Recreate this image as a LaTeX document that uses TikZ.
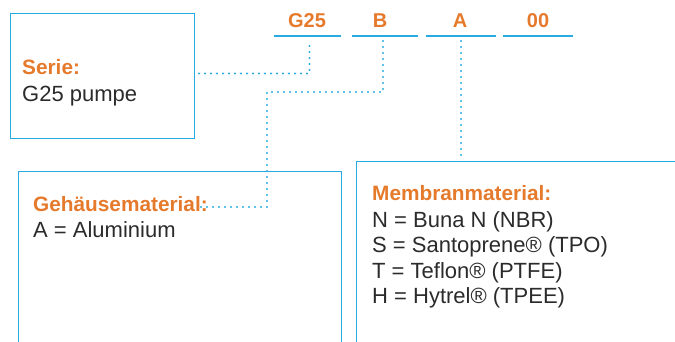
\documentclass[tikz,border=0pt]{standalone}
\usepackage{fontspec}
\setmainfont{Liberation Sans}
\definecolor{lineblue}{HTML}{29ABE2}
\definecolor{codeorange}{HTML}{E57A2C}
\definecolor{bodygray}{HTML}{2B2B2B}
\begin{document}
\begin{tikzpicture}[x=1pt,y=-1pt,
  box/.style={draw=lineblue,line width=1.3pt,inner sep=0,anchor=north west},
  head/.style={anchor=base west,inner sep=0,font=\fontsize{20.8}{24}\bfseries\selectfont,text=codeorange},
  body/.style={anchor=base west,inner sep=0,font=\fontsize{22}{25.5}\selectfont,text=bodygray},
  code/.style={anchor=base,inner sep=0,font=\fontsize{20}{24}\bfseries\selectfont,text=codeorange},
  uline/.style={draw=lineblue,line width=1.3pt},
  dots/.style={draw=lineblue,line width=2.2pt,line cap=round,dash pattern=on 0pt off 6pt}]
\useasboundingbox (0,0) rectangle (675,341);
\clip (0,0) rectangle (675,341);
% boxes
\node[box,minimum width=184pt,minimum height=125pt] (seriebox) at (10,13) {};
\node[box,minimum width=323.5pt,minimum height=180pt] (gehbox) at (17.5,171) {};
\node[box,minimum width=325pt,minimum height=190pt] (membox) at (356,160.5) {};
% box texts
\node[head] (seriehead) at (22,74) {Serie:};
\node[body] (seriebody) at (22,101) {G25 pumpe};
\node[head] (gehhead) at (33,211) {Gehäusematerial:};
\node[body] (gehbody) at (33,237) {A = Aluminium};
\node[head] (memhead) at (372,200) {Membranmaterial:};
\node[body] (mem1) at (372,227) {N = Buna N (NBR)};
\node[body] (mem2) at (372,252.5) {S = Santoprene® (TPO)};
\node[body] (mem3) at (372,278) {T = Teflon® (PTFE)};
\node[body] (mem4) at (372,303.5) {H = Hytrel® (TPEE)};
% code letters
\node[code] (cg) at (307,27) {G25};
\node[code] (cb) at (380,27) {B};
\node[code] (ca) at (460,27) {A};
\node[code] (c0) at (538,27) {00};
% underlines
\coordinate (ug1) at (274,36); \coordinate (ug2) at (341,36);
\coordinate (ub1) at (352,36); \coordinate (ub2) at (418,36);
\coordinate (ua1) at (426,36); \coordinate (ua2) at (496,36);
\coordinate (u01) at (503,36); \coordinate (u02) at (573,36);
\draw[uline] (ug1) -- (ug2);
\draw[uline] (ub1) -- (ub2);
\draw[uline] (ua1) -- (ua2);
\draw[uline] (u01) -- (u02);
% connector taps
\coordinate (gtap) at (309.5,41);
\coordinate (btap) at (383,41);
\coordinate (atap) at (461,41);
\coordinate (bturn) at (383,92);
\coordinate (gehend) at (198,207);
\coordinate (memend) at (461,156);
% connectors
\draw[dots] (199,73.5) -| (gtap);
\draw[dots] (btap) -- (bturn) -| (267,207) -- (gehend);
\draw[dots] (atap) -- (memend);
\end{tikzpicture}
\end{document}
